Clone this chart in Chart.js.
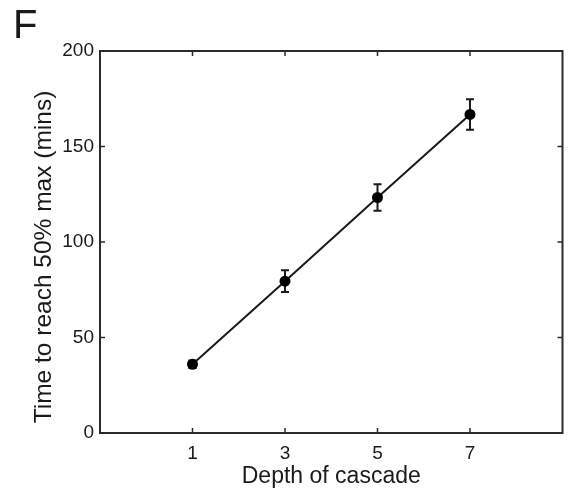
<!DOCTYPE html>
<html><head><meta charset="utf-8">
<script src="https://cdn.jsdelivr.net/npm/chart.js@4"></script>
<style>html,body{margin:0;padding:0;background:#fff}#wrap{width:568px;height:495px}</style>
</head><body><div id="wrap"><canvas id="c" width="568" height="495"></canvas></div>
<script>
const depths = [1, 3, 5, 7];
const times = [36, 79.5, 123.3, 166.8];
const errors = [2, 5.7, 6.9, 8];
const xTicks = [1, 3, 5, 7];
const yTicks = [0, 50, 100, 150, 200];
const panelLabel = 'F';
const xTitle = 'Depth of cascade';
const yTitle = 'Time to reach 50% max (mins)';

const FONT = '"Liberation Sans", Arial, Helvetica, sans-serif';
const INK = '#1a1a1a';

const points = depths.map((d, i) => ({x: d, y: times[i]}));

const decor = {
  id: 'decor',
  beforeDatasetsDraw(chart) {
    const ctx = chart.ctx, xs = chart.scales.x, ys = chart.scales.y;
    ctx.save();
    ctx.strokeStyle = INK;
    ctx.lineWidth = 2;
    depths.forEach((d, i) => {
      const px = xs.getPixelForValue(d);
      const top = ys.getPixelForValue(times[i] + errors[i]);
      const bot = ys.getPixelForValue(times[i] - errors[i]);
      ctx.beginPath();
      ctx.moveTo(px, top); ctx.lineTo(px, bot);
      ctx.moveTo(px - 4, top); ctx.lineTo(px + 4, top);
      ctx.moveTo(px - 4, bot); ctx.lineTo(px + 4, bot);
      ctx.stroke();
    });
    ctx.restore();
  },
  afterDraw(chart) {
    const ctx = chart.ctx, a = chart.chartArea, xs = chart.scales.x, ys = chart.scales.y;
    ctx.save();
    ctx.strokeStyle = '#2a2a2a';
    ctx.lineWidth = 2;
    ctx.strokeRect(a.left, a.top, a.right - a.left, a.bottom - a.top);
    ctx.lineWidth = 1.5;
    const tl = 5;
    ctx.beginPath();
    xTicks.forEach(v => {
      const px = xs.getPixelForValue(v);
      ctx.moveTo(px, a.bottom); ctx.lineTo(px, a.bottom - tl);
      ctx.moveTo(px, a.top); ctx.lineTo(px, a.top + tl);
    });
    yTicks.forEach(v => {
      const py = ys.getPixelForValue(v);
      ctx.moveTo(a.left, py); ctx.lineTo(a.left + tl, py);
      ctx.moveTo(a.right, py); ctx.lineTo(a.right - tl, py);
    });
    ctx.stroke();

    ctx.fillStyle = INK;
    ctx.font = '40px ' + FONT;
    ctx.textAlign = 'left';
    ctx.textBaseline = 'alphabetic';
    ctx.fillText(panelLabel, 13, 38);

    ctx.font = '23px ' + FONT;
    ctx.textAlign = 'center';
    ctx.fillText(xTitle, (a.left + a.right) / 2, 483);

    ctx.save();
    ctx.translate(51, (a.top + a.bottom) / 2 + 15);
    ctx.rotate(-Math.PI / 2);
    ctx.font = '24.5px ' + FONT;
    ctx.textAlign = 'center';
    ctx.fillText(yTitle, 0, 0);
    ctx.restore();
    ctx.restore();
  }
};

new Chart(document.getElementById('c'), {
  type: 'scatter',
  data: {
    datasets: [{
      data: points,
      showLine: true,
      borderColor: INK,
      borderWidth: 2,
      tension: 0,
      pointRadius: 5.5,
      pointBackgroundColor: '#000',
      pointBorderColor: '#000',
      pointBorderWidth: 0
    }]
  },
  options: {
    responsive: false,
    devicePixelRatio: 1,
    animation: false,
    layout: {padding: {left: 0, top: 51, right: 1, bottom: 0}},
    plugins: {legend: {display: false}, tooltip: {enabled: false}},
    scales: {
      x: {
        type: 'linear', min: -1, max: 9,
        afterBuildTicks: s => { s.ticks = xTicks.map(v => ({value: v})); },
        afterFit: s => { s.height = 62; s.paddingLeft = 0; s.paddingRight = 0; },
        grid: {display: false, drawTicks: false},
        border: {display: false},
        ticks: {color: INK, font: {family: FONT, size: 19}, padding: 9, maxRotation: 0}
      },
      y: {
        type: 'linear', min: 0, max: 200,
        afterBuildTicks: s => { s.ticks = yTicks.map(v => ({value: v})); },
        afterFit: s => { s.width = 100; s.paddingTop = 0; s.paddingBottom = 0; },
        grid: {display: false, drawTicks: false},
        border: {display: false},
        ticks: {color: INK, font: {family: FONT, size: 19}, padding: 6}
      }
    }
  },
  plugins: [decor]
});
</script></body></html>
